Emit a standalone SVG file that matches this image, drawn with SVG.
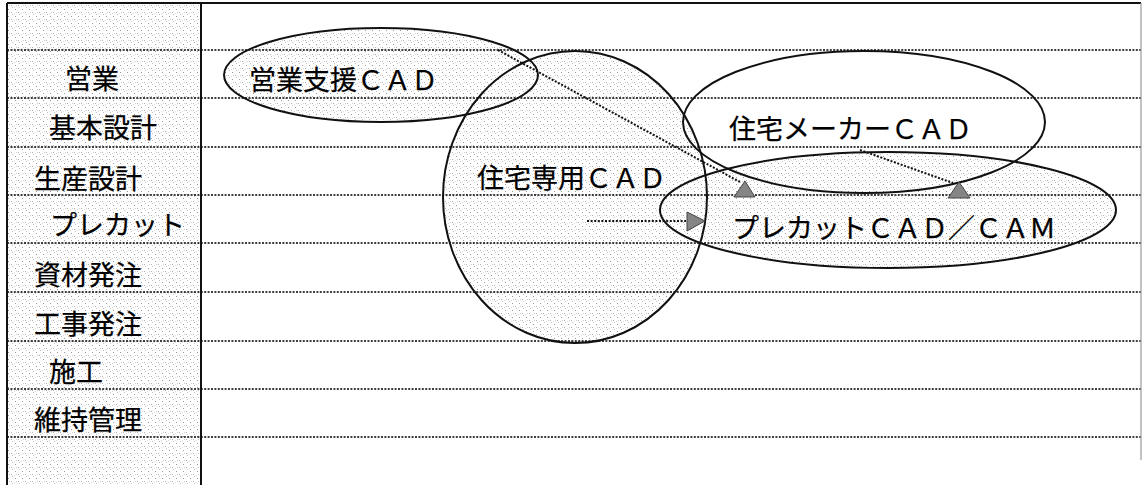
<svg xmlns="http://www.w3.org/2000/svg" width="1142" height="485" viewBox="0 0 1142 485">
  <style>
    .lbl { font-family: "Noto Sans CJK JP", "Noto Sans", sans-serif; font-size: 27px; fill: #000; stroke: #000; stroke-width: 0.25; }
    .row { stroke: #000; stroke-width: 1.6; stroke-dasharray: 2 1.4; fill: none; }
    .frame { stroke: #111; stroke-width: 2; fill: none; }
    .oval { stroke: #111; stroke-width: 2; fill: none; }
    .shade { fill: url(#grain); stroke: none; }
    .link { stroke: #111; stroke-width: 2; stroke-dasharray: 2 1.6; fill: none; }
    .head { fill: #858585; stroke: #444; stroke-width: 1; }
  </style>
  <defs>
    <!-- sparse grey stipple used for shaded areas -->
    <pattern id="grain" width="7" height="7" patternUnits="userSpaceOnUse">
      <rect x="1" y="2" width="1" height="1" fill="#9a9a9a"/>
      <rect x="4" y="5" width="1" height="1" fill="#b0b0b0"/>
      <rect x="5" y="0" width="1" height="1" fill="#c4c4c4"/>
      <rect x="2" y="5" width="1" height="1" fill="#d0d0d0"/>
      <rect x="0" y="6" width="1" height="1" fill="#dadada"/>
    </pattern>
  </defs>

  <rect width="1142" height="485" fill="#ffffff"/>

  <!-- process column background -->
  <rect class="shade" x="7" y="3" width="194" height="482"/>

  <!-- shaded interiors of the CAD systems -->
  <g id="shading">
    <ellipse class="shade" cx="381" cy="75" rx="157" ry="47"/>
    <ellipse class="shade" cx="575" cy="197" rx="132" ry="146"/>
    <ellipse class="shade" cx="888" cy="210" rx="228" ry="58"/>
  </g>

  <!-- row separators -->
  <g id="rows">
    <line class="row" x1="7" y1="50" x2="1141" y2="50"/>
    <line class="row" x1="7" y1="98" x2="1141" y2="98"/>
    <line class="row" x1="7" y1="147" x2="1141" y2="147"/>
    <line class="row" x1="7" y1="195" x2="1141" y2="195"/>
    <line class="row" x1="7" y1="243" x2="1141" y2="243"/>
    <line class="row" x1="7" y1="292" x2="1141" y2="292"/>
    <line class="row" x1="7" y1="341" x2="1141" y2="341"/>
    <line class="row" x1="7" y1="389" x2="1141" y2="389"/>
    <line class="row" x1="7" y1="437" x2="1141" y2="437"/>
  </g>

  <!-- frame -->
  <g id="frame">
    <line class="frame" x1="7" y1="3" x2="1141" y2="3"/>
    <line class="frame" x1="7" y1="3" x2="7" y2="485"/>
    <line class="frame" x1="201" y1="3" x2="201" y2="485"/>
    <line x1="1141" y1="3" x2="1141" y2="460" stroke="#999" stroke-width="1.2"/>
  </g>

  <!-- process labels -->
  <g id="stages">
    <text class="lbl" x="65" y="89">営業</text>
    <text class="lbl" x="49" y="138">基本設計</text>
    <text class="lbl" x="34" y="189">生産設計</text>
    <text class="lbl" x="50" y="235">プレカット</text>
    <text class="lbl" x="34" y="285">資材発注</text>
    <text class="lbl" x="34" y="334">工事発注</text>
    <text class="lbl" x="49" y="382">施工</text>
    <text class="lbl" x="34" y="430">維持管理</text>
  </g>

  <!-- CAD systems -->
  <g id="sales-cad">
    <ellipse class="oval" cx="381" cy="75" rx="157" ry="47"/>
    <text class="lbl" x="249" y="90">営業支援ＣＡＤ</text>
  </g>
  <g id="house-cad">
    <ellipse class="oval" cx="575" cy="197" rx="132" ry="146"/>
    <text class="lbl" x="477" y="188">住宅専用ＣＡＤ</text>
  </g>
  <g id="maker-cad">
    <ellipse class="oval" cx="864" cy="122" rx="181" ry="71"/>
    <text class="lbl" x="729" y="139">住宅メーカーＣＡＤ</text>
  </g>
  <g id="precut-cad">
    <ellipse class="oval" cx="888" cy="210" rx="228" ry="58"/>
    <text class="lbl" x="732" y="238">プレカットＣＡＤ／ＣＡＭ</text>
  </g>

  <!-- connectors -->
  <g id="connectors">
    <line class="link" x1="498" y1="50" x2="740" y2="182"/>
    <polygon class="head" points="745,181 734,197 755,197"/>
    <line class="link" x1="860" y1="150" x2="953" y2="183"/>
    <polygon class="head" points="959,182 948,198 970,198"/>
    <line class="link" x1="587" y1="221" x2="686" y2="221"/>
    <polygon class="head" points="705,221 687,212 687,231"/>
  </g>
</svg>
